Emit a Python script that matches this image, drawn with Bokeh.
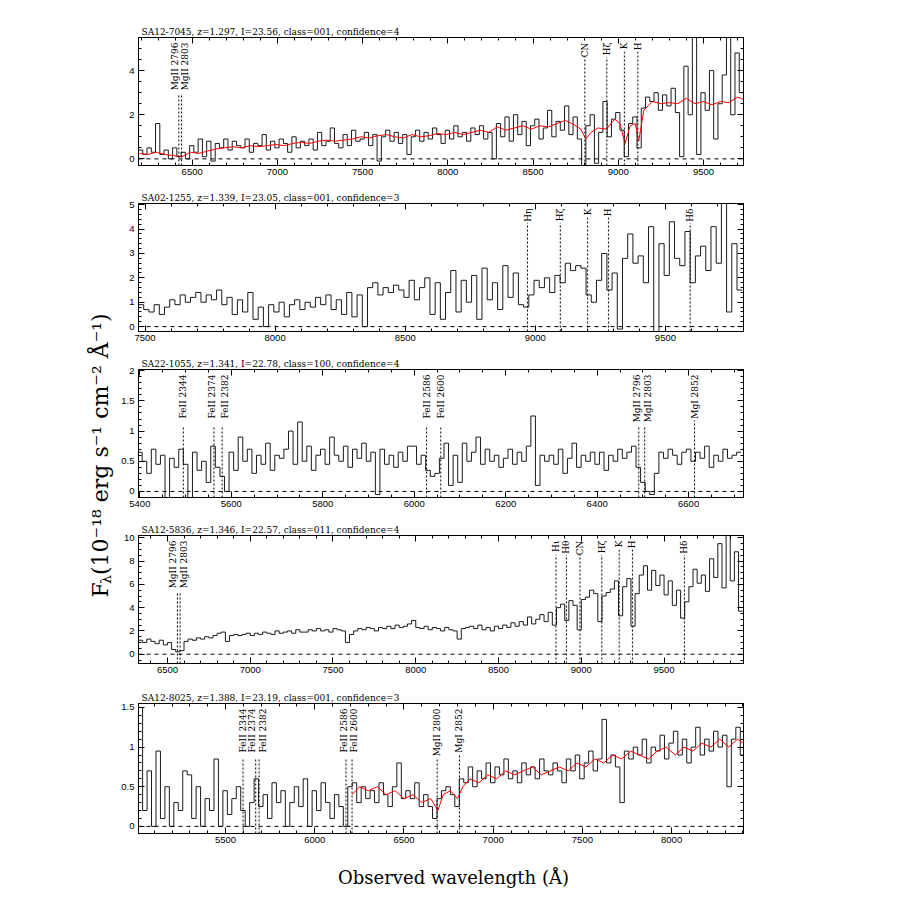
import numpy as np
from bokeh.plotting import figure
from bokeh.models import Range1d, LinearAxis, SingleIntervalTicker, CustomJSTickFormatter, Label, Span
from bokeh.layouts import column, row
from bokeh.embed import file_html
from bokeh.resources import INLINE
from bokeh.core.properties import value

# ------------------------------------------------------------------ data
titles = [
    "SA12-7045, z=1.297, I=23.56, class=001, confidence=4",
    "SA02-1255, z=1.339, I=23.05, class=001, confidence=3",
    "SA22-1055, z=1.341, I=22.78, class=100, confidence=4",
    "SA12-5836, z=1.346, I=22.57, class=011, confidence=4",
    "SA12-8025, z=1.388, I=23.19, class=001, confidence=3",
]
x_title = "Observed wavelength (Å)"

# panel 1
p1_xrange = (6185, 9735)
p1_yrange = (-0.3, 5.5)
p1_start, p1_bin = 6185, 25
p1_flux = [0.4, 0.2, 0.5, 0.3, 1.6, 0.2, 0.4, 0.0, 0.5, 0.1, 0.3, 0.0,
           0.6, 0.3, 0.9, 0.1, 0.8, -0.1, 0.7, 0.5, 0.9, 0.4, 0.8, 0.6,
           0.5, 0.9, 0.3, 0.7, 0.6, 1.1, 0.4, 0.8, 0.5, 0.9, 0.7, 0.3,
           1.0, 0.5, 0.8, 0.6, 0.9, 0.4, 1.2, 0.6, 0.8, 1.4, 0.7, 0.5,
           1.1, 0.6, 1.3, 0.8, 0.9, 1.2, 0.6, 1.1, -0.1, 1.0, 1.3, 0.8,
           1.2, 0.7, 1.1, 0.2, 1.0, 1.3, 0.8, 1.2, 0.9, 1.4, 1.1, 0.7,
           1.3, 0.9, 1.5, 1.0, 1.2, 0.8, 1.4, 1.1, 1.5, 0.9, 1.2, 0.0,
           1.6, 1.0, 1.9, 0.8, 2.0, 1.1, 1.7, 0.6, 1.5, 1.8, 0.9, 1.4,
           2.2, 1.0, 1.7, 1.3, 2.4, 1.1, 1.9, 0.9, -0.3, 1.5, 2.0, -0.2,
           1.2, 2.6, 1.0, 1.8, 2.1, 1.3, 0.1, 1.6, 1.9, 0.5, 2.3, 2.8,
           2.6, 3.0, 2.2, 2.9, 2.4, 3.2, 2.1, 0.1, 4.2, 2.0, 5.6, 0.2,
           3.0, 2.2, 4.0, 0.9, 2.5, 3.8, 5.6, 2.0, 4.8, 3.0]
p1_model_wave = [6190, 6240, 6290, 6340, 6390, 6440, 6490, 6540, 6590, 6640,
                 6690, 6740, 6790, 6840, 6890, 6940, 6990, 7040, 7090, 7140,
                 7190, 7240, 7290, 7340, 7390, 7440, 7490, 7540, 7590, 7640,
                 7690, 7740, 7790, 7840, 7890, 7940, 7990, 8040, 8090, 8140,
                 8190, 8240, 8290, 8340, 8390, 8440, 8490, 8540, 8590, 8640,
                 8690, 8740, 8780, 8810, 8840, 8880, 8930, 8980, 9010, 9040,
                 9070, 9100, 9120, 9150, 9200, 9250, 9300, 9350, 9400, 9450,
                 9500, 9550, 9600, 9650, 9700, 9735]
p1_model_flux = [0.25, 0.2, 0.3, 0.2, 0.15, 0.1, 0.3, 0.25, 0.35, 0.45,
                 0.5, 0.55, 0.5, 0.6, 0.55, 0.6, 0.65, 0.6, 0.7, 0.75,
                 0.7, 0.8, 0.85, 0.8, 0.85, 0.9, 1.0, 0.95, 1.05, 1.1,
                 1.0, 0.95, 1.1, 1.0, 1.05, 1.15, 1.1, 1.2, 1.1, 1.2,
                 1.3, 1.2, 1.45, 1.3, 1.4, 1.5, 1.35, 1.5, 1.45, 1.6,
                 1.75, 1.55, 1.35, 0.9, 1.2, 1.4, 1.35, 1.8, 1.6, 0.7,
                 1.5, 1.6, 0.8, 2.2, 2.6, 2.5, 2.55, 2.5, 2.75, 2.5,
                 2.6, 2.45, 2.6, 2.55, 2.8, 2.7]
p1_line_wave = [6422, 6438, 8804, 8933, 9036, 9115]
p1_line_name = ["MgII 2796", "MgII 2803", "CN", "Hζ", "K", "H"]

# panel 2
p2_xrange = (7475, 9800)
p2_yrange = (-0.2, 5.05)
p2_start, p2_bin = 7475, 20
p2_flux = [0.9, 0.7, 0.6, 0.9, 0.5, 0.8, 1.1, 0.9, 1.3, 1.0,
           1.2, 1.4, 1.0, 1.3, 1.1, 1.5, 0.9, 1.2, 0.5, 1.1,
           0.6, 1.4, 0.3, 0.8, 0.0, 0.9, 0.6, 1.0, 0.4, 0.9,
           1.1, 0.7, 1.0, 0.8, 1.2, 0.9, 1.3, 0.7, 1.1, 0.5,
           1.4, 0.4, 1.3, 0.0, 1.6, 1.8, 1.3, 1.6, 1.4, 1.7,
           1.5, 1.2, 1.9, 1.1, 1.6, 2.0, 0.5, 1.8, 0.3, 1.4,
           2.3, 0.6, 1.9, 1.0, 2.1, 0.3, 2.4, 1.1, 1.8, 0.7,
           2.5, 1.2, 2.2, 0.9, 0.8, 1.3, 1.9, 1.6, 2.0, 1.4,
           2.1, 1.8, 2.6, 2.3, 2.5, 2.4, 1.3, 1.0, 1.9, 3.0,
           1.5, 2.2, -0.1, 2.8, 3.8, 2.6, 2.9, 1.8, 4.1, -0.2,
           3.4, 2.1, 4.3, 2.8, 2.5, 3.9, 1.8, 2.9, 3.3, 2.3,
           4.1, 2.6, 5.2, 0.6, 3.4, 1.5]
p2_line_wave = [8970, 9096, 9201, 9281, 9595]
p2_line_name = ["Hη", "Hζ", "K", "H", "Hδ"]

# panel 3
p3_xrange = (5397, 6720)
p3_yrange = (-0.1, 2.02)
p3_start, p3_bin = 5395, 10
p3_flux = [0.65, 0.5, 0.3, 0.7, 0.45, 0.6, -0.1, 0.55, 0.4, 0.7,
           0.45, -0.1, 0.65, 0.35, 0.5, 0.15, 0.75, 0.4, 0.25, 0.0,
           0.65, 0.35, 0.9, 0.5, 0.7, 0.3, 0.6, 0.45, 0.8, 0.35,
           0.6, 0.55, 0.7, 1.0, 0.45, 1.15, 0.5, 0.75, 0.35, 0.6,
           0.7, 0.45, 0.9, 0.6, 0.5, 0.75, 0.4, 0.7, 0.55, 0.8,
           0.5, 0.65, -0.05, 0.7, 0.45, 0.6, 0.4, 0.65, 0.5, 0.75,
           0.75, 0.45, 0.6, 0.35, 0.25, 0.3, 0.55, 0.8, 0.1, 0.6,
           0.15, 0.8, 0.5, 0.65, 0.9, 0.45, 0.7, 0.5, 0.6, 0.4,
           0.55, 0.7, 0.45, 0.65, 0.5, 0.75, 1.25, 0.1, 0.6, 0.5,
           0.6, 0.45, 0.7, 0.3, 0.55, 0.8, 0.4, 0.6, 0.5, 0.65,
           0.45, 0.65, 0.35, 0.6, 0.5, 0.7, 0.55, 0.65, 0.75, 0.4,
           0.15, 0.0, -0.05, 0.3, 0.65, 0.55, 0.7, 0.6, 0.45, 0.65,
           0.7, 0.5, 0.65, 0.55, 0.75, 0.4, 0.6, 0.5, 0.7, 0.55,
           0.6, 0.65]
p3_line_wave = [5495, 5562, 5580, 6027, 6058, 6491, 6504, 6613]
p3_line_name = ["FeII 2344", "FeII 2374", "FeII 2382", "FeII 2586", "FeII 2600",
                "MgII 2796", "MgII 2803", "MgI 2852"]

# panel 4
p4_xrange = (6325, 9980)
p4_yrange = (-0.8, 10.2)
p4_start, p4_bin = 6325, 25
p4_flux = [1.2, 1.0, 1.3, 1.1, 0.9, 1.2, 0.8, 1.0, 0.4, 0.2, 0.3, 1.1,
           1.3, 1.2, 1.4, 1.3, 1.5, 1.4, 1.6, 1.8, 1.9, 1.1, 1.6, 1.7,
           1.6, 1.7, 1.8, 1.6, 1.8, 1.7, 1.9, 1.8, 1.7, 2.0, 1.8, 1.9,
           2.0, 1.8, 2.1, 1.9, 1.9, 2.1, 2.0, 2.2, 2.0, 2.1, 1.9, 2.2,
           2.1, 2.0, 1.0, 1.7, 2.0, 2.2, 2.1, 2.3, 2.2, 2.0, 2.3, 2.2,
           2.4, 2.2, 2.5, 2.3, 2.4, 2.6, 2.9, 2.3, 2.2, 2.4, 2.1, 2.3,
           2.2, 2.0, 2.3, 2.1, 2.0, 1.3, 2.2, 2.3, 2.4, 2.2, 2.5, 2.1,
           2.3, 2.0, 2.4, 2.2, 2.5, 2.3, 2.7, 2.4, 2.8, 2.5, 3.2, 2.6,
           3.0, 3.4, 2.8, 3.6, 2.5, 4.0, 4.3, 2.9, 4.6, 4.2, 2.1, 4.7,
           4.9, 5.5, 5.2, 2.8, 5.0, 5.3, 5.6, 6.3, 3.3, 5.8, 6.5, 2.4,
           5.2, 6.8, 7.6, 5.5, 7.2, 5.9, 6.8, 5.1, 6.3, 4.2, 5.5, 3.1,
           4.5, 5.8, 7.3, 6.1, 6.8, 5.4, 8.2, 6.6, 9.5, 5.7, 10.5, 6.3,
           8.8, 3.7]
p4_line_wave = [6560, 6576, 8847, 8910, 8992, 9124, 9229, 9309, 9623]
p4_line_name = ["MgII 2796", "MgII 2803", "Hι", "Hθ", "CN", "Hζ", "K", "H", "Hδ"]

# panel 5
p5_xrange = (5012, 8403)
p5_yrange = (-0.09, 1.55)
p5_start, p5_bin = 5010, 25
p5_flux = [1.5, 0.2, 0.7, 0.0, 0.95, 0.1, 0.5, 0.0, 0.3, 0.2, 0.7, 0.65,
           0.1, 0.5, 0.0, 0.35, 0.2, 0.85, 0.0, 0.45, 0.15, 0.35, 0.5, 0.2,
           0.0, 0.3, 0.6, 0.25, 0.4, 0.1, 0.55, 0.3, 0.45, 0.0, 0.3, 0.5,
           0.25, 0.6, 0.0, 0.45, 0.2, 0.55, 0.3, 0.1, 0.4, 0.25, 0.0, 0.5,
           0.55, 0.3, 0.5, 0.35, 0.45, 0.3, 0.55, 0.4, 0.25, 0.5, 0.8, 0.35,
           0.45, 0.35, 0.55, 0.25, 0.4, 0.25, 0.1, 0.35, 0.45, 0.5, 0.4, 0.25,
           0.6, 0.55, 0.75, 0.5, 0.7, 0.6, 0.8, 0.55, 0.75, 0.65, 0.85, 0.6,
           0.7, 0.55, 0.8, 0.65, 0.75, 0.6, 0.85, 0.7, 0.65, 0.8, 0.7, 0.55,
           0.85, 0.7, 0.9, 0.6, 0.8, 0.95, 0.7, 0.85, 1.35, 0.8, 0.9, 0.75,
           0.3, 0.95, 0.85, 1.0, 0.9, 1.1, 0.8, 1.0, 0.95, 1.15, 0.85, 1.05,
           1.2, 0.9, 1.1, 0.8, 1.0, 1.25, 0.9, 1.1, 0.95, 1.2, 1.0, 1.15,
           0.5, 1.1, 1.25, 0.9]
p5_model_wave = [6210, 6250, 6300, 6350, 6400, 6450, 6500, 6550, 6600, 6650,
                 6690, 6720, 6760, 6800, 6830, 6870, 6920, 6970, 7020, 7070,
                 7120, 7170, 7220, 7270, 7320, 7370, 7420, 7470, 7520, 7570,
                 7620, 7670, 7720, 7770, 7820, 7870, 7920, 7970, 8020, 8070,
                 8120, 8170, 8220, 8270, 8320, 8370, 8400]
p5_model_flux = [0.4, 0.5, 0.45, 0.5, 0.4, 0.45, 0.35, 0.4, 0.3, 0.35,
                 0.2, 0.4, 0.45, 0.35, 0.5, 0.6, 0.55, 0.65, 0.6, 0.7,
                 0.65, 0.7, 0.75, 0.65, 0.7, 0.75, 0.7, 0.8, 0.75, 0.85,
                 0.8, 0.9, 0.85, 0.95, 0.9, 0.85, 0.95, 1.0, 0.9, 1.0,
                 0.95, 1.05, 1.0, 1.1, 1.0, 1.1, 1.05]
p5_line_wave = [5598, 5669, 5688, 6175, 6209, 6686, 6811]
p5_line_name = ["FeII 2344", "FeII 2374", "FeII 2382", "FeII 2586", "FeII 2600",
                "MgII 2800", "MgI 2852"]

# ------------------------------------------------------------------ style
FRAME_W = 606
LEFT_W = 118          # canvas holding the y-axis title
FRAME_LEFT = 137      # page x of the frames' left edge
PANEL_W = 774
SERIF = "DejaVu Serif"
SANS = "Liberation Sans"
LBL_PX = 9
FMT_CODE = "return String(Math.round(tick*1000)/1000);"


def style_axis(ax, labels=True, standoff=3):
    ax.major_tick_in = 6
    ax.major_tick_out = 0
    ax.minor_tick_in = 3
    ax.minor_tick_out = 0
    ax.axis_line_color = "black"
    ax.major_tick_line_color = "black"
    ax.minor_tick_line_color = "black"
    if labels:
        ax.major_label_text_font = SANS
        ax.major_label_text_font_size = "9.5px"
        ax.major_label_text_color = "black"
        ax.major_label_standoff = standoff
    else:
        ax.major_label_text_font_size = "1px"
        ax.major_label_text_color = None
        ax.major_label_text_alpha = 0
        ax.major_label_standoff = 0


def make_panel(title, xr, yr, start, binw, flux, lwave, lname, loff,
               xtick, xminor, ytick, yminor, frame_h, btop, bbot,
               mwave=None, mflux=None):
    height = btop + frame_h + bbot
    bl = FRAME_LEFT - LEFT_W
    p = figure(width=PANEL_W, height=height, x_range=Range1d(*xr), y_range=Range1d(*yr),
               output_backend="svg", toolbar_location=None,
               min_border_left=bl, min_border_right=PANEL_W - bl - FRAME_W,
               min_border_top=btop, min_border_bottom=bbot)
    p.grid.visible = False
    p.outline_line_color = "black"
    p.background_fill_color = "white"
    p.border_fill_color = "white"

    p.title.text = title
    p.title.align = "left"
    p.title.offset = 3
    p.title.standoff = 1
    p.title.text_font = SERIF
    p.title.text_font_size = "9px"
    p.title.text_font_style = "normal"
    p.title.text_color = "black"

    xt = SingleIntervalTicker(interval=xtick, num_minor_ticks=xminor)
    yt = SingleIntervalTicker(interval=ytick, num_minor_ticks=yminor)
    p.xaxis.ticker = xt
    p.yaxis.ticker = yt
    p.xaxis.formatter = CustomJSTickFormatter(code=FMT_CODE)
    p.yaxis.formatter = CustomJSTickFormatter(code=FMT_CODE)
    style_axis(p.xaxis[0], True, 3)
    style_axis(p.yaxis[0], True, 4)
    top = LinearAxis(ticker=xt)
    style_axis(top, False)
    right = LinearAxis(ticker=yt)
    style_axis(right, False)
    p.add_layout(top, "above")
    p.add_layout(right, "right")

    dx = (xr[1] - xr[0]) / FRAME_W
    dy = (yr[1] - yr[0]) / frame_h

    # zero level
    p.add_layout(Span(location=0, dimension="width", line_color="black",
                      line_dash="4 4", line_width=1))

    # spectrum as steps
    xs = start + binw * np.arange(len(flux) + 1)
    ys = list(flux) + [flux[-1]]
    p.step(xs, ys, mode="after", line_color="#1a1a1a", line_width=1)

    if mwave is not None:
        p.line(mwave, mflux, line_color="red", line_width=1)

    # spectral line markers
    lw = np.array(lwave, dtype=float)
    lens = np.array([len(n) * 0.58 * LBL_PX for n in lname])
    ytxt = yr[1] - 5 * dy
    tops = yr[1] - (5 + lens + 4) * dy
    p.segment(x0=lw, y0=[yr[0]] * len(lw), x1=lw, y1=tops,
              line_color="black", line_dash="2 2", line_width=1)
    p.text(x=lw + np.array(loff) * dx, y=[ytxt] * len(lw), text=lname,
           angle=np.pi / 2, text_align="right", text_baseline="middle",
           text_font=value(SERIF), text_font_size=f"{LBL_PX}px", text_color="black")
    return p


f1 = make_panel(titles[0], p1_xrange, p1_yrange, p1_start, p1_bin, p1_flux,
                p1_line_wave, p1_line_name, [-3.5, 3.5, 0, 0, 0, 0],
                500, 5, 2, 4, 128, 37, 17, p1_model_wave, p1_model_flux)
f2 = make_panel(titles[1], p2_xrange, p2_yrange, p2_start, p2_bin, p2_flux,
                p2_line_wave, p2_line_name, [0, 0, 0, 0, 0],
                500, 5, 1, 5, 128, 21, 17)
f3 = make_panel(titles[2], p3_xrange, p3_yrange, p3_start, p3_bin, p3_flux,
                p3_line_wave, p3_line_name, [0, -2, 3, 0, 0, -2, 3, 0],
                200, 4, 0.5, 5, 128, 21, 17)
f4 = make_panel(titles[3], p4_xrange, p4_yrange, p4_start, p4_bin, p4_flux,
                p4_line_wave, p4_line_name, [-4, 4, 0, 0, 0, 0, 0, 0, 0],
                500, 5, 2, 4, 128, 21, 17)
f5 = make_panel(titles[4], p5_xrange, p5_yrange, p5_start, p5_bin, p5_flux,
                p5_line_wave, p5_line_name, [0, -3.5, 3.5, -2, 2, 0, 0],
                500, 5, 0.5, 5, 130, 23, 17, p5_model_wave, p5_model_flux)

PANELS_H = 182 + 166 * 3 + 170
PAGE_W = LEFT_W + PANEL_W

# y-axis title canvas (coordinates = page pixels, y upward)
lf = figure(width=LEFT_W, height=PANELS_H, x_range=Range1d(0, LEFT_W), y_range=Range1d(0, PANELS_H),
            output_backend="svg", toolbar_location=None, min_border=0,
            x_axis_location=None, y_axis_location=None)
lf.grid.visible = False
lf.outline_line_color = None
lf.border_fill_color = "white"
common = dict(angle=np.pi / 2, text_align="left", text_baseline="middle",
              text_font=SERIF, text_color="black")
y0 = PANELS_H - 597
lf.add_layout(Label(x=100, y=y0, text="F", text_font_size="22px", **common))
lf.add_layout(Label(x=105, y=y0 + 13.5, text="λ", text_font_size="14px", **common))
lf.add_layout(Label(x=100, y=y0 + 22.5, text="(10⁻¹⁸ erg s⁻¹ cm⁻² Å⁻¹)",
                    text_font_size="22px", **common))

# x-axis title strip across the full page width (coordinates = page pixels)
XT_H = 42
xf = figure(width=PAGE_W, height=XT_H, x_range=Range1d(0, PAGE_W), y_range=Range1d(0, XT_H),
            output_backend="svg", toolbar_location=None, min_border=0,
            x_axis_location=None, y_axis_location=None)
xf.grid.visible = False
xf.outline_line_color = None
xf.border_fill_color = "white"
xf.add_layout(Label(x=453, y=XT_H - (877 - PANELS_H), text=x_title, text_align="center",
                    text_baseline="middle", text_font=SERIF, text_font_size="18px",
                    text_color="black"))

layout = column(row(lf, column(f1, f2, f3, f4, f5)), xf)
open("out.html", "w").write(file_html(layout, INLINE, title="spectra"))
